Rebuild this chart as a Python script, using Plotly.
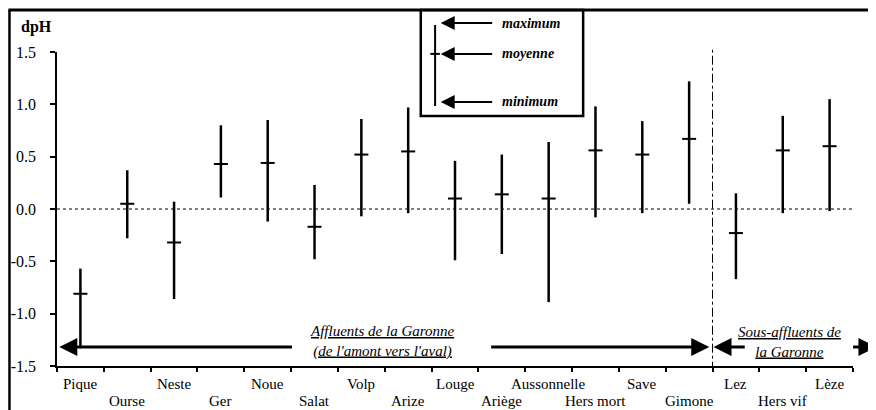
import plotly.graph_objects as go

categories = ["Pique", "Ourse", "Neste", "Ger", "Noue", "Salat", "Volp", "Arize", "Louge",
              "Ariège", "Aussonnelle", "Hers mort", "Save", "Gimone", "Lez", "Hers vif", "Lèze"]
maximum = [-0.57, 0.37, 0.07, 0.80, 0.85, 0.23, 0.86, 0.97, 0.46, 0.52, 0.64, 0.98, 0.84, 1.22, 0.15, 0.89, 1.05]
moyenne = [-0.81, 0.05, -0.32, 0.43, 0.44, -0.17, 0.52, 0.55, 0.10, 0.14, 0.10, 0.56, 0.52, 0.67, -0.23, 0.56, 0.60]
minimum = [-1.33, -0.28, -0.86, 0.11, -0.12, -0.48, -0.07, -0.04, -0.49, -0.43, -0.89, -0.08, -0.04, 0.05, -0.67, -0.04, -0.02]

ytickvals = [-1.5, -1.0, -0.5, 0.0, 0.5, 1.0, 1.5]
yticktext = ["-1.5", "-1.0", "-0.5", "0.0", "0.5", "1.0", "1.5"]

FONT = "Liberation Serif, Times New Roman, serif"

fig = go.Figure()
fig.add_trace(go.Scatter(
    x=categories, y=moyenne, mode="markers",
    marker=dict(symbol="line-ew", size=10, color="black", line=dict(width=2, color="black")),
    error_y=dict(type="data", symmetric=False,
                 array=[mx - m for mx, m in zip(maximum, moyenne)],
                 arrayminus=[m - mn for m, mn in zip(moyenne, minimum)],
                 width=0, thickness=2.5, color="black"),
    showlegend=False, hoverinfo="skip"))

shapes = []
# zero dotted line
shapes.append(dict(type="line", xref="x", yref="y", x0=-0.5, x1=16.5, y0=0, y1=0,
                   line=dict(color="black", width=1, dash="dot")))
# separator dash-dot
shapes.append(dict(type="line", xref="x", yref="paper", x0=13.5, x1=13.5, y0=-0.015, y1=1.01,
                   line=dict(color="black", width=1, dash="dashdot")))
# legend box
shapes.append(dict(type="rect", xref="paper", yref="paper", x0=0.457, x1=0.661, y0=0.796, y1=1.134,
                   line=dict(color="black", width=2.5), fillcolor="white"))
shapes.append(dict(type="line", xref="paper", yref="paper", x0=0.475, x1=0.475, y0=0.828, y1=1.086,
                   line=dict(color="black", width=2)))
shapes.append(dict(type="line", xref="paper", yref="paper", x0=0.469, x1=0.481, y0=0.994, y1=0.994,
                   line=dict(color="black", width=2)))
# outer frame (top and left)
shapes.append(dict(type="line", xref="paper", yref="paper", x0=-0.061, x1=1.04, y0=1.134, y1=1.134,
                   line=dict(color="black", width=3)))
shapes.append(dict(type="line", xref="paper", yref="paper", x0=-0.0597, x1=-0.0597, y0=1.134, y1=-0.16,
                   line=dict(color="black", width=2.5)))

ann = []
# category labels in two rows
for i, c in enumerate(categories):
    ann.append(dict(x=c, y=-1.5, xref="x", yref="y", text=c, showarrow=False,
                    xanchor="center", yanchor="top", yshift=-8 if i % 2 == 0 else -25,
                    font=dict(family=FONT, size=15, color="black")))
# dpH
ann.append(dict(x=-0.026, y=1.08, xref="paper", yref="paper", text="<b>dpH</b>", showarrow=False,
                xanchor="center", yanchor="middle", font=dict(family=FONT, size=16, color="black")))
# legend entries
for lab, yy in [("maximum", 1.092), ("moyenne", 0.994), ("minimum", 0.841)]:
    ann.append(dict(x=0.482, y=yy, xref="paper", yref="paper", text="", showarrow=True,
                    ax=53, ay=0, arrowhead=2, arrowsize=1.4, arrowwidth=2, arrowcolor="black"))
    ann.append(dict(x=0.5565, y=yy, xref="paper", yref="paper", text="<b><i>%s</i></b>" % lab,
                    showarrow=False, xanchor="left", yanchor="middle",
                    font=dict(family=FONT, size=14, color="black")))
# group annotations
ann.append(dict(x=6.45, y=-1.27, xref="x", yref="y", xanchor="center", yanchor="middle",
                text="<i><u>Affluents de la Garonne</u></i><br><i><u>(de l'amont vers l'aval)</u></i>",
                showarrow=False, font=dict(family=FONT, size=15, color="black")))
ann.append(dict(x=15.14, y=-1.27, xref="x", yref="y", xanchor="center", yanchor="middle",
                text="<i><u>Sous-affluents de</u></i><br><i><u>la Garonne</u></i>",
                showarrow=False, font=dict(family=FONT, size=15, color="black")))
arrow_y = -1.318
for tip, tail in [(-0.45, 4.55), (13.43, 8.74), (13.52, 14.22), (17.0, 16.47)]:
    ann.append(dict(x=tip, y=arrow_y, xref="x", yref="y", ax=tail, ay=arrow_y, axref="x", ayref="y",
                    text="", showarrow=True, arrowhead=2, arrowsize=1.2, arrowwidth=3,
                    arrowcolor="black"))

# page body has an 8px margin: figure is sized/shifted to compensate
fig.update_layout(
    template="none",
    width=868, height=402,
    margin=dict(l=49, r=23, t=44, b=44, autoexpand=False),
    paper_bgcolor="white", plot_bgcolor="white",
    font=dict(family=FONT, size=15, color="black"),
    shapes=shapes, annotations=ann,
    xaxis=dict(type="category", categoryorder="array", categoryarray=categories,
               range=[-0.5, 16.5], showline=True, linewidth=2, linecolor="black",
               ticks="outside", ticklen=4, tickwidth=1.5, tickcolor="black", tickson="boundaries",
               showticklabels=False, showgrid=False, zeroline=False, automargin=False),
    yaxis=dict(range=[-1.5, 1.5], tickvals=ytickvals, ticktext=yticktext,
               showline=True, linewidth=1.5, linecolor="black",
               ticks="outside", ticklen=5, tickwidth=1.5, tickcolor="black",
               ticklabelstandoff=11, showgrid=False, zeroline=False, automargin=False,
               tickfont=dict(family=FONT, size=16, color="black")),
    xaxis2=dict(overlaying="x", anchor="y2", range=[-0.5, 16.5], tick0=-0.5, dtick=1,
                ticks="inside", ticklen=4, tickwidth=1.5, tickcolor="black", automargin=False,
                showticklabels=False, showgrid=False, zeroline=False, showline=False),
    yaxis2=dict(overlaying="y", anchor="x2", side="left", range=[-1.5, 1.5], tickvals=ytickvals,
                ticks="inside", ticklen=5, tickwidth=1.5, tickcolor="black", automargin=False,
                showticklabels=False, showgrid=False, zeroline=False, showline=False),
)

fig.write_html("out.html")
